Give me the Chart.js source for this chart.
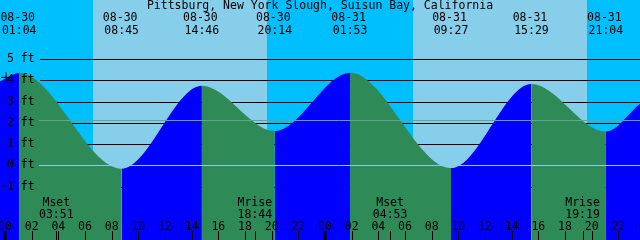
<!DOCTYPE html>
<html>
<head>
<meta charset="utf-8">
<script src="https://cdn.jsdelivr.net/npm/chart.js@4.4.1/dist/chart.umd.min.js"></script>
<style>html,body{margin:0;padding:0;background:#fff;overflow:hidden}</style>
</head>
<body>
<canvas id="tide" width="640" height="240"></canvas>
<script>
var title = 'Pittsburg, New York Slough, Suisun Bay, California';

// hours counted from 08-30 00:00, first and last are the picture edges
var tideHours = [-0.375, 1.067, 8.75, 14.767, 20.233, 25.883, 33.45, 39.483, 45.067, 47.625];
var tideFeet  = [3.95, 4.35, -0.16, 3.75, 1.61, 4.36, -0.13, 3.84, 1.59, 2.9];
var eventDates = ['', '08-30', '08-30', '08-30', '08-30', '08-31', '08-31', '08-31', '08-31', ''];
var eventTimes = ['', '01:04', '08:45', '14:46', '20:14', '01:53', '09:27', '15:29', '21:04', ''];

var sunrise = [6.6, 30.62];
var sunset = [19.65, 43.63];

var moonHours = [3.85, 18.733, 28.883, 43.317];
var moonKinds = ['Mset', 'Mrise', 'Mset', 'Mrise'];
var moonTimes = ['03:51', '18:44', '04:53', '19:19'];

var hourTicks = [0, 2, 4, 6, 8, 10, 12, 14, 16, 18, 20, 22, 24, 26, 28, 30, 32, 34, 36, 38, 40, 42, 44, 46, 48];
var feetTicks = [-1, 0, 1, 2, 3, 4, 5];
var meanLevel = 2.13;
var nowMark = [{x: 0.08, y: 4.15}];

var FONT = '11.5px "DejaVu Sans Mono"';

var tidePoints = tideHours.map(function (h, i) { return {x: h, y: tideFeet[i]}; });

function pad2(n) { return (n < 10 ? '0' : '') + n; }

var decor = {
    id: 'tideDecor',
    beforeDraw: function (chart) {
        var ctx = chart.ctx, xs = chart.scales.x, a = chart.chartArea;
        ctx.save();
        ctx.fillStyle = '#00bfff';
        ctx.fillRect(a.left, a.top, a.right - a.left, a.bottom - a.top);
        ctx.fillStyle = '#87ceeb';
        for (var i = 0; i < sunrise.length; i++) {
            var x0 = Math.round(xs.getPixelForValue(sunrise[i]));
            var x1 = Math.round(xs.getPixelForValue(sunset[i]));
            ctx.fillRect(x0, a.top, x1 - x0, a.bottom - a.top);
        }
        ctx.restore();
    },
    beforeDatasetsDraw: function (chart) {
        var ctx = chart.ctx, ys = chart.scales.y, a = chart.chartArea;
        ctx.save();
        ctx.strokeStyle = '#000';
        ctx.lineWidth = 1;
        feetTicks.forEach(function (v) {
            var y = Math.round(ys.getPixelForValue(v)) + 0.5;
            ctx.beginPath();
            ctx.moveTo(40, y);
            ctx.lineTo(a.right, y);
            ctx.stroke();
        });
        ctx.restore();
    },
    afterDatasetsDraw: function (chart) {
        var ctx = chart.ctx, ys = chart.scales.y, a = chart.chartArea;
        ctx.save();
        ctx.lineWidth = 1;
        ctx.strokeStyle = '#87ceeb';
        var y = Math.round(ys.getPixelForValue(0)) + 0.5;
        ctx.beginPath(); ctx.moveTo(39, y); ctx.lineTo(a.right, y); ctx.stroke();
        ctx.strokeStyle = '#62a690';
        y = Math.round(ys.getPixelForValue(meanLevel)) + 0.5;
        ctx.beginPath(); ctx.moveTo(39, y); ctx.lineTo(a.right, y); ctx.stroke();
        ctx.restore();
    },
    afterDraw: function (chart) {
        var ctx = chart.ctx, xs = chart.scales.x, a = chart.chartArea;
        ctx.save();
        ctx.font = FONT;
        ctx.fillStyle = '#000';
        ctx.strokeStyle = '#000';
        ctx.textAlign = 'center';
        ctx.textBaseline = 'alphabetic';
        ctx.fillText(title, 320, 9);

        tideHours.forEach(function (h, i) {
            if (!eventTimes[i]) return;
            var x = xs.getPixelForValue(h);
            ctx.fillText(eventDates[i], x - 1.5, 21);
            ctx.fillText(eventTimes[i], x, 34);
        });

        moonHours.forEach(function (h, i) {
            var x = xs.getPixelForValue(h);
            ctx.fillText(moonKinds[i], x, 206);
            ctx.fillText(moonTimes[i], x, 218);
            var px = Math.round(x) + 0.5;
            ctx.lineWidth = 1;
            ctx.beginPath(); ctx.moveTo(px, 231); ctx.lineTo(px, a.bottom); ctx.stroke();
        });

        hourTicks.forEach(function (h) {
            var x = xs.getPixelForValue(h);
            ctx.fillText(pad2(h % 24), x, 229.5);
            var midnight = h % 24 === 0;
            ctx.lineWidth = midnight ? 3 : 1;
            var px = midnight ? Math.round(x) : Math.round(x) + 0.5;
            ctx.beginPath(); ctx.moveTo(px, 231); ctx.lineTo(px, a.bottom); ctx.stroke();
        });
        ctx.restore();
    }
};

new Chart(document.getElementById('tide'), {
    type: 'line',
    data: {
        datasets: [{
            type: 'scatter',
            data: nowMark,
            pointStyle: 'cross',
            pointRadius: 5,
            borderColor: '#000',
            backgroundColor: '#000',
            pointBorderWidth: 1,
            showLine: false,
            clip: false
        }, {
            data: tidePoints,
            cubicInterpolationMode: 'monotone',
            pointRadius: 0,
            borderWidth: 0,
            borderColor: 'rgba(0,0,0,0)',
            fill: 'start',
            backgroundColor: '#2e8b57',
            segment: {
                backgroundColor: function (c) {
                    return c.p1.parsed.y > c.p0.parsed.y ? '#0000ff' : '#2e8b57';
                }
            }
        }]
    },
    options: {
        responsive: false,
        animation: false,
        events: [],
        layout: {padding: 0, autoPadding: false},
        plugins: {legend: {display: false}, tooltip: {enabled: false}},
        scales: {
            x: {type: 'linear', min: -0.375, max: 47.625, display: false},
            y: {
                min: -3.52, max: 7.795,
                position: 'left',
                grid: {display: false, drawTicks: false},
                border: {display: false},
                afterBuildTicks: function (s) {
                    s.ticks = feetTicks.map(function (v) { return {value: v}; });
                },
                afterFit: function (s) {
                    s.paddingTop = 0;
                    s.paddingBottom = 0;
                },
                ticks: {
                    z: 1,
                    mirror: true,
                    crossAlign: 'far',
                    padding: 0,
                    autoSkip: false,
                    color: '#000',
                    font: {family: 'DejaVu Sans Mono', size: 11.5},
                    callback: function (v) { return v + ' ft'; }
                }
            }
        }
    },
    plugins: [decor]
});
</script>
</body>
</html>
